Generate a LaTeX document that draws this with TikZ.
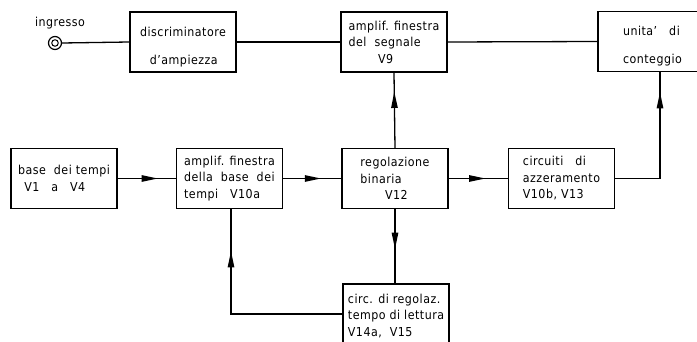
\documentclass[tikz,border=0pt]{standalone}
\usepackage{fontspec}
\setmainfont[LetterSpace=4]{DejaVu Sans Condensed}
\usetikzlibrary{decorations.markings}
\begin{document}
\begin{tikzpicture}[x=1pt,y=-1pt,line width=1.3pt,
  blk/.style={draw,line width=1.4pt,minimum width=106pt,minimum height=60pt,inner sep=3pt,
     align=left,font=\fontsize{12.3}{16.5}\selectfont},
  wide/.style={font=\fontsize{12.3}{28}\selectfont},
  lbl/.style={font=\fontsize{12.3}{16.5}\selectfont},
  midarrow/.style={decoration={markings,mark=at position #1 with {\fill (1,0) -- (-15,-3.4) -- (-15,3.4) -- cycle;}},postaction={decorate}}]
\useasboundingbox (0,0) rectangle (697,342);
\clip (0,0) rectangle (697,342);
% nodes
\node[blk,wide] (disc) at (183,42) {\rule{0pt}{19pt}discriminatore\\\hspace*{0.8em}d'ampiezza};
\node[blk] (v9) at (394,42) {amplif. finestra\\del\ \ segnale\\\hspace*{2.4em}V9};
\node[blk,wide,minimum width=104pt] (unit) at (650,41.5) {\rule{0pt}{19pt}\hspace*{0.4em}unita'\ \ \ di\\\hspace*{0.4em}conteggio};
\node[blk] (base) at (64,178.5) {base\ \ dei tempi\\\hspace*{0.5em}V1\ \ \ a\ \ \ V4};
\node[blk] (amp) at (229.5,178.5) {amplif. finestra\\della\ \ base\ \ dei\\tempi\ \ \ V10a};
\node[blk] (reg) at (395,178.5) {regolazione\\binaria\\\hspace*{2em}V12};
\node[blk] (circ) at (561.5,178.5) {circuiti\ \ \ di\\azzeramento\\V10b,\ V13};
\node[blk,minimum height=64pt] (let) at (396,316) {circ. di regolaz.\\tempo di lettura\\V14a,\ \ V15};
% input terminal
\node[circle,draw,line width=1.2pt,minimum size=13pt,inner sep=0pt] (in) at (55,43) {};
\node[circle,draw,line width=1pt,minimum size=6.5pt,inner sep=0pt] (inin) at (55,43) {};
\node[lbl] (inlbl) at (60,23) {ingresso};
% connectors
\draw (in.east) -- (disc.west);
\draw (disc.east) -- (v9.west);
\draw (v9.east) -- (unit.west);
\draw[midarrow=0.67] (base.east) -- (amp.west);
\draw[midarrow=0.63] (amp.east) -- (reg.west);
\draw[midarrow=0.6] (reg.east) -- (circ.west);
\draw[midarrow=0.73] (reg.north) -- (v9.south);
\draw[midarrow=0.52] (reg.south) -- (reg.south |- let.north);
\coordinate (c1) at (660,178.5);
\draw[midarrow=0.86] (circ.east) -- (c1) -- (c1 |- unit.south);
\coordinate (c2) at (231,314);
\draw[midarrow=0.8] (let.west |- c2) -- (c2) -- (c2 |- amp.south);
\end{tikzpicture}
\end{document}
